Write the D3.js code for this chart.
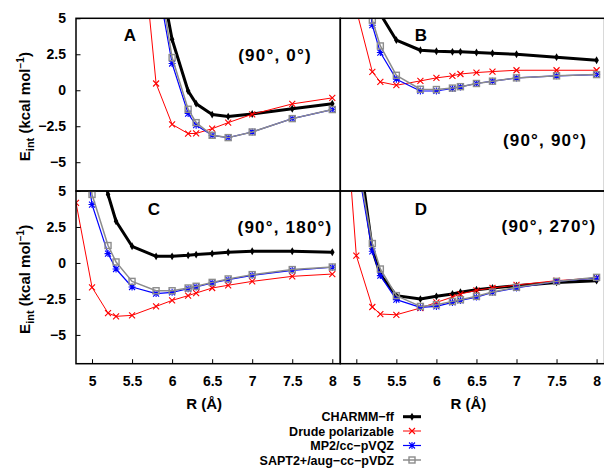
<!DOCTYPE html>
<html>
<head>
<meta charset="utf-8">
<script src="https://cdn.jsdelivr.net/npm/d3@7"></script>
<style>
  html, body { margin: 0; padding: 0; background: #fff; }
  svg { display: block; font-family: "Liberation Sans", Arial, Helvetica, sans-serif; font-weight: bold; }
</style>
</head>
<body>
<svg id="chart" width="604" height="468"></svg>
<script>
// Intermolecular separations (Å) at which each curve was sampled
const R = [4.8, 5.0, 5.2, 5.3, 5.5, 5.8, 6.0, 6.2, 6.3, 6.5, 6.7, 7.0, 7.5, 8.0];

// Interaction energies (kcal/mol); null = not sampled / outside the plotted range
const charmmA = [null, null, null, null, null, 9.4, 3.53, -0.05, -0.93, -1.69, -1.83, -1.65, -1.28, -0.93];
const drudeA  = [null, null, null, null, 17.5, 0.47, -2.37, -3.01, -3.0, -2.67, -2.25, -1.67, -0.95, -0.53];
const mp2A    = [null, null, null, null, null, 8.1, 1.86, -1.62, -2.43, -3.13, -3.29, -2.9, -1.97, -1.34];
const saptA   = [null, null, null, null, null, 9.1, 2.27, -1.32, -2.25, -3.13, -3.29, -2.9, -1.97, -1.34];

const charmmB = [null, null, 8.0, 5.3, 3.48, 2.78, 2.71, 2.67, 2.67, 2.62, 2.57, 2.5, 2.30, 2.09];
const drudeB  = [12, 5.6, 1.27, 0.58, 0.35, 0.65, 0.86, 1.0, 1.13, 1.23, 1.3, 1.39, 1.39, 1.39];
const mp2B    = [null, 12, 4.52, 2.62, 0.77, -0.05, -0.05, 0.12, 0.23, 0.47, 0.63, 0.86, 1.0, 1.09];
const saptB   = [null, 13, 4.87, 3.08, 1.04, 0.07, 0.05, 0.15, 0.25, 0.47, 0.63, 0.86, 1.0, 1.09];

const charmmC = [null, 10, 4.76, 2.9, 1.16, 0.46, 0.46, 0.53, 0.58, 0.65, 0.74, 0.81, 0.81, 0.74];
const drudeC  = [4.18, -1.69, -3.48, -3.71, -3.64, -3.02, -2.6, -2.27, -2.09, -1.74, -1.55, -1.28, -0.93, -0.77];
const mp2C    = [12, 4.06, 0.65, -0.42, -1.67, -2.13, -2.04, -1.79, -1.67, -1.39, -1.16, -0.86, -0.51, -0.30];
const saptC   = [13, 4.76, 1.21, 0.07, -1.28, -1.93, -1.93, -1.74, -1.62, -1.35, -1.11, -0.81, -0.46, -0.28];

const charmmD = [null, 9.07, 0.93, -0.81, -2.27, -2.51, -2.32, -2.16, -2.04, -1.86, -1.74, -1.58, -1.35, -1.23];
const drudeD  = [15.5, 0.51, -3.06, -3.55, -3.6, -3.13, -2.74, -2.37, -2.16, -1.9, -1.74, -1.53, -1.23, -1.04];
const mp2D    = [null, 7.3, 0.81, -0.88, -2.55, -3.09, -3.02, -2.74, -2.6, -2.37, -2.04, -1.74, -1.28, -1.04];
const saptD   = [null, 7.6, 1.35, -0.42, -2.27, -3.02, -2.9, -2.67, -2.55, -2.32, -2.02, -1.69, -1.28, -1.0];

const seriesNames = ["CHARMM−ff", "Drude polarizable", "MP2/cc−pVQZ", "SAPT2+/aug−cc−pVDZ"];
const panelLetters = ["A", "B", "C", "D"];
const panelAngles = ["(90°, 0°)", "(90°, 90°)", "(90°, 180°)", "(90°, 270°)"];
const xTicks = [5, 5.5, 6, 6.5, 7, 7.5, 8];
const yTicks = [5, 2.5, 0, -2.5, -5];

const panelSeries = [
  [charmmA, drudeA, mp2A, saptA],
  [charmmB, drudeB, mp2B, saptB],
  [charmmC, drudeC, mp2C, saptC],
  [charmmD, drudeD, mp2D, saptD]
];

// Visual style of each method
const styles = [
  { color: "#000000", width: 3,   marker: "dot" },
  { color: "#ff0000", width: 1,   marker: "cross" },
  { color: "#0000ff", width: 1.2, marker: "star" },
  { color: "#8c8c8c", width: 1.5, marker: "square" }
];

// Panel grid geometry
const padLeft = 76, padTop = 18.3;
const pw = 264.3, ph = 172.7;

const svg = d3.select("#chart");
const fmt = v => (v < 0 ? "−" : "") + Math.abs(v);

function drawMarker(g, type, color, cx, cy) {
  if (type === "dot") {
    g.append("path").attr("d", d3.symbol(d3.symbolDiamond, 18)())
      .attr("transform", `translate(${cx},${cy})`).attr("fill", color);
  } else if (type === "cross") {
    const s = 3;
    g.append("path").attr("d", `M${cx - s},${cy - s}L${cx + s},${cy + s}M${cx - s},${cy + s}L${cx + s},${cy - s}`)
      .attr("stroke", color).attr("stroke-width", 1.1).attr("fill", "none");
  } else if (type === "star") {
    const s = 3;
    g.append("path").attr("d",
      `M${cx - s},${cy - s}L${cx + s},${cy + s}M${cx - s},${cy + s}L${cx + s},${cy - s}M${cx},${cy - s - 0.5}L${cx},${cy + s + 0.5}M${cx - s - 0.5},${cy}L${cx + s + 0.5},${cy}`)
      .attr("stroke", color).attr("stroke-width", 1.1).attr("fill", "none");
  } else if (type === "square") {
    const s = 3;
    g.append("rect").attr("x", cx - s).attr("y", cy - s).attr("width", 2 * s).attr("height", 2 * s)
      .attr("stroke", color).attr("stroke-width", 1.4).attr("fill", "none");
  }
}

const defs = svg.append("defs");

panelSeries.forEach((series, p) => {
  const col = p % 2, row = Math.floor(p / 2);
  const x0 = padLeft + col * pw, y0 = padTop + row * ph;
  const x = d3.scaleLinear().domain([4.8, 8.1]).range([x0, x0 + pw]);
  const y = d3.scaleLinear().domain([-7, 5]).range([y0 + ph, y0]);

  defs.append("clipPath").attr("id", "clip" + p)
    .append("rect").attr("x", x0).attr("y", y0).attr("width", pw).attr("height", ph);

  const g = svg.append("g").attr("clip-path", `url(#clip${p})`);

  series.forEach((vals, s) => {
    const st = styles[s];
    const pts = R.map((r, i) => ({ r, e: vals[i] }));
    const line = d3.line().defined(d => d.e != null).x(d => x(d.r)).y(d => y(d.e));
    g.append("path").datum(pts).attr("d", line)
      .attr("fill", "none").attr("stroke", st.color).attr("stroke-width", st.width)
      .attr("stroke-linejoin", "round");
    pts.filter(d => d.e != null).forEach(d => drawMarker(g, st.marker, st.color, x(d.r), y(d.e)));
  });

  // Axes with inward ticks
  if (row === 1) {
    svg.append("g").attr("transform", `translate(0,${y0 + ph})`)
      .call(d3.axisBottom(x).tickValues(xTicks).tickSize(-4.5).tickPadding(12).tickFormat(d => d))
      .call(a => a.select(".domain").remove())
      .call(a => a.selectAll("line").attr("stroke", "#000").attr("stroke-width", 1))
      .call(a => a.selectAll("text").attr("font-size", 14).attr("font-weight", "bold")
        .attr("font-family", "Liberation Sans, Arial, sans-serif").attr("fill", "#000"));
    svg.append("text").attr("x", x0 + pw / 2 - 4).attr("y", 409).attr("text-anchor", "middle")
      .attr("font-size", 15).text("R (Å)");
  }
  if (col === 0) {
    svg.append("g").attr("transform", `translate(${x0},0)`)
      .call(d3.axisLeft(y).tickValues(yTicks).tickSize(-4.5).tickPadding(10).tickFormat(fmt))
      .call(a => a.select(".domain").remove())
      .call(a => a.selectAll("line").attr("stroke", "#000").attr("stroke-width", 1))
      .call(a => a.selectAll("text").attr("font-size", 14).attr("font-weight", "bold")
        .attr("font-family", "Liberation Sans, Arial, sans-serif").attr("fill", "#000"));

    const lab = svg.append("text")
      .attr("transform", `translate(30,${y0 + ph / 2 + 2}) rotate(-90)`)
      .attr("text-anchor", "middle").attr("font-size", 15);
    lab.append("tspan").text("E");
    lab.append("tspan").attr("font-size", 11).attr("dy", 4).text("int");
    lab.append("tspan").attr("dy", -4).text(" (kcal mol");
    lab.append("tspan").attr("font-size", 10).attr("dy", -6).text("−1");
    lab.append("tspan").attr("dy", 6).text(")");
  }

  // Panel frame
  svg.append("rect").attr("x", x0).attr("y", y0).attr("width", pw).attr("height", ph)
    .attr("fill", "none").attr("stroke", "#000").attr("stroke-width", 1.5);
});

// Panel letters and orientation labels
const letterPos = [[130, 41], [421, 41], [154, 215], [421, 215]];
const anglePos = [[275, 61], [545, 146], [285, 233], [549, 232]];
panelLetters.forEach((t, i) => {
  svg.append("text").attr("x", letterPos[i][0]).attr("y", letterPos[i][1])
    .attr("text-anchor", "middle").attr("font-size", 17).text(t);
  svg.append("text").attr("x", anglePos[i][0]).attr("y", anglePos[i][1])
    .attr("text-anchor", "middle").attr("font-size", 17).attr("letter-spacing", 1.2)
    .text(panelAngles[i]);
});

// Legend
const legY = [416.7, 431, 445.5, 460];
seriesNames.forEach((name, i) => {
  const st = styles[i];
  svg.append("text").attr("x", 394).attr("y", legY[i] + 4.5).attr("text-anchor", "end")
    .attr("font-size", 12.5).text(name);
  svg.append("line").attr("x1", 403).attr("x2", 421).attr("y1", legY[i]).attr("y2", legY[i])
    .attr("stroke", st.color).attr("stroke-width", st.width);
  drawMarker(svg, st.marker, st.color, 412, legY[i]);
});
</script>
</body>
</html>
